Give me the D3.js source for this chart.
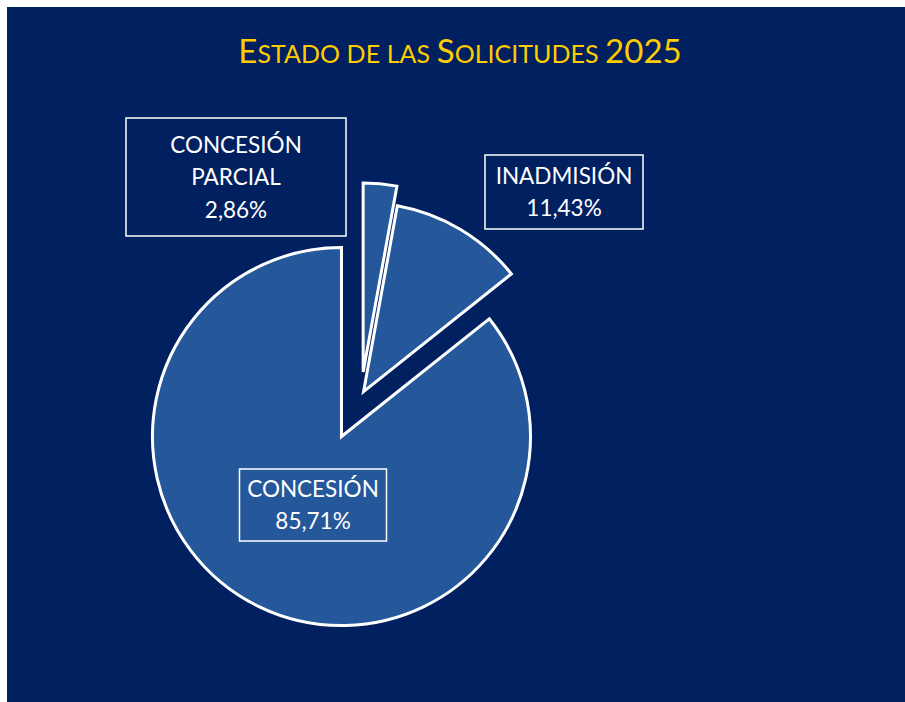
<!DOCTYPE html>
<html>
<head>
<meta charset="utf-8">
<script src="https://cdn.jsdelivr.net/npm/d3@7"></script>
<style>
  html, body { margin: 0; padding: 0; background: #ffffff; }
  svg { display: block; }
</style>
</head>
<body>
<div id="chart"></div>
<script>
// chart data
const title = "Estado de las Solicitudes 2025";
const categories = ["Concesión parcial", "Inadmisión", "Concesión"];
const labelNames = [["CONCESIÓN", "PARCIAL"], ["INADMISIÓN"], ["CONCESIÓN"]];
const values = [2.86, 11.43, 85.71];

// layout (px)
const width = 905, height = 702;
const center = {x: 361, y: 396};
const radius = 189;
const explode = [24, 5, 45];
// label boxes: centre and size
const labelBoxes = [
  {cx: 236, cy: 177, w: 220, h: 118, fill: "#002060"},
  {cx: 564, cy: 192, w: 158, h: 74, fill: "#002060"},
  {cx: 313, cy: 505, w: 147, h: 72, fill: "none"}
];

const es = d3.formatLocale({decimal: ",", thousands: ".", grouping: [3], currency: ["", "€"]});
const pct = v => es.format(".2f")(v) + "%";

const svg = d3.select("#chart")
  .append("svg")
  .attr("width", width)
  .attr("height", height);

svg.append("rect")
  .attr("x", 7).attr("y", 7)
  .attr("width", width - 7).attr("height", height - 7)
  .attr("fill", "#002060");

// title in small caps, built by hand
const titleText = svg.append("text")
  .attr("x", 460).attr("y", 63)
  .attr("text-anchor", "middle")
  .attr("fill", "#FFCC00")
  .style("font-family", "Lato, 'Open Sans', sans-serif");

title.split(" ").forEach((word, wi) => {
  if (wi > 0) titleText.append("tspan").attr("font-size", 26).text(" ");
  word.split("").forEach(ch => {
    const big = ch === ch.toUpperCase();
    titleText.append("tspan")
      .attr("font-size", big ? 33 : 25)
      .text(ch.toUpperCase());
  });
});

const pie = d3.pie().sort(null).value(d => d);
const arcs = pie(values);

const arc = d3.arc()
  .innerRadius(0)
  .outerRadius(radius);

const g = svg.append("g")
  .attr("transform", `translate(${center.x}, ${center.y})`);

g.selectAll("path.slice")
  .data(arcs)
  .join("path")
  .attr("class", "slice")
  .attr("d", arc)
  .attr("transform", (d, i) => {
    const a = (d.startAngle + d.endAngle) / 2;
    return `translate(${Math.sin(a) * explode[i]}, ${-Math.cos(a) * explode[i]})`;
  })
  .attr("fill", "#25579B")
  .attr("stroke", "#ffffff")
  .attr("stroke-width", 3)
  .attr("stroke-linejoin", "miter");

// data labels
const lineH = 32.5;
const labels = svg.append("g").selectAll("g.label")
  .data(arcs)
  .join("g")
  .attr("class", "label")
  .attr("transform", (d, i) => `translate(${labelBoxes[i].cx}, ${labelBoxes[i].cy})`);

labels.append("rect")
  .attr("x", (d, i) => -labelBoxes[i].w / 2)
  .attr("y", (d, i) => -labelBoxes[i].h / 2)
  .attr("width", (d, i) => labelBoxes[i].w)
  .attr("height", (d, i) => labelBoxes[i].h)
  .attr("fill", (d, i) => labelBoxes[i].fill)
  .attr("stroke", "#ffffff")
  .attr("stroke-width", 1.5);

labels.each(function(d, i) {
  const lines = labelNames[i].concat([pct(d.data)]);
  const t = d3.select(this).append("text")
    .attr("text-anchor", "middle")
    .attr("fill", "#ffffff")
    .attr("font-size", 22.5)
    .style("font-family", "Lato, 'Open Sans', sans-serif");
  const y0 = -(lines.length - 1) * lineH / 2;
  lines.forEach((s, k) => {
    t.append("tspan")
      .attr("x", 0)
      .attr("y", y0 + k * lineH)
      .attr("dy", "0.36em")
      .text(s);
  });
});
</script>
</body>
</html>
